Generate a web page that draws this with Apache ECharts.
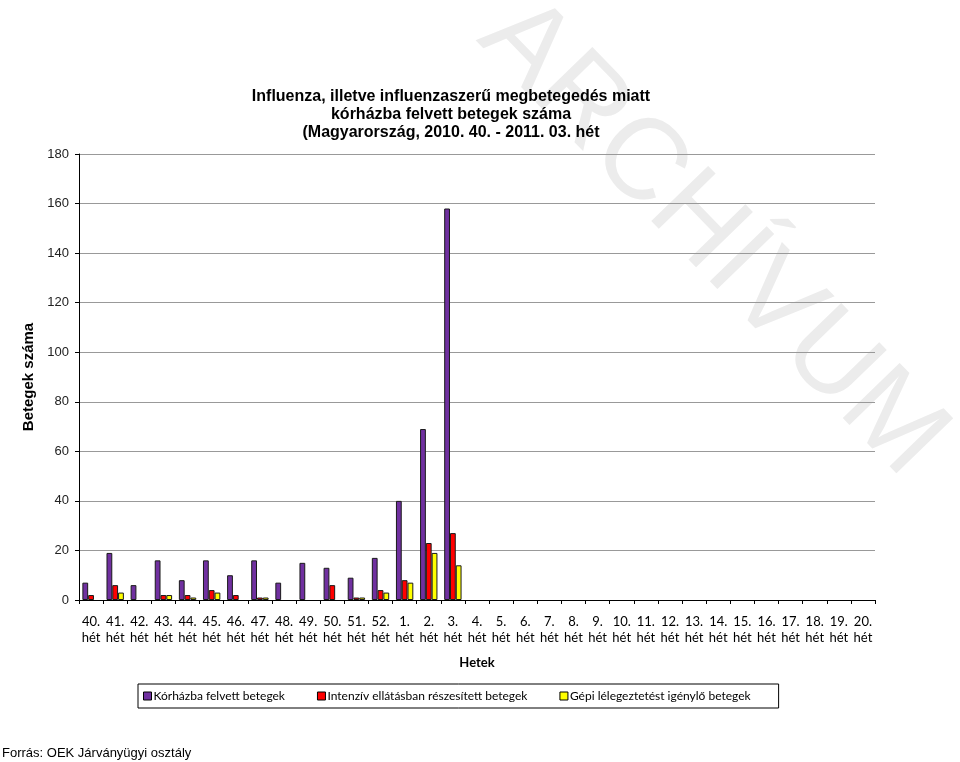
<!DOCTYPE html>
<html><head><meta charset="utf-8">
<script src="https://cdn.jsdelivr.net/npm/echarts@6/dist/echarts.min.js"></script>
<style>html,body{margin:0;padding:0;background:#fff}#c{width:960px;height:762px}</style>
</head><body><div id="c"></div>
<script>
const weeks = ["40.","41.","42.","43.","44.","45.","46.","47.","48.","49.","50.","51.","52.","1.","2.","3.","4.","5.","6.","7.","8.","9.","10.","11.","12.","13.","14.","15.","16.","17.","18.","19.","20."];
const hospitalized = [7,19,6,16,8,16,10,16,7,15,13,9,17,40,69,158,null,null,null,null,null,null,null,null,null,null,null,null,null,null,null,null,null];
const intensive = [2,6,0,2,2,4,2,1,0,0,6,1,4,8,23,27,null,null,null,null,null,null,null,null,null,null,null,null,null,null,null,null,null];
const ventilated = [0,3,0,2,1,3,0,1,0,0,0,1,3,7,19,14,null,null,null,null,null,null,null,null,null,null,null,null,null,null,null,null,null];
const seriesNames = ["Kórházba felvett betegek","Intenzív ellátásban részesített betegek","Gépi lélegeztetést igénylő betegek"];
const colors = ["#7030A0","#FF0000","#FFFF00"];
const yTicks = {min:0, max:180, interval:20};

const chart = echarts.init(document.getElementById('c'));
const mk = (i, data) => ({
  name: seriesNames[i], type:'bar',
  data: data.map(v => v === 0 ? {value:0, itemStyle:{borderWidth:0}} : v),
  barGap: 0, barCategoryGap: '28%',
  itemStyle: {color: colors[i], borderColor:'#1a1a1a', borderWidth:1},
  z: 3
});
chart.setOption({
  animation:false,
  textStyle:{fontFamily:'Liberation Sans, Arial, sans-serif'},
  title:{
    text:"Influenza, illetve influenzaszerű megbetegedés miatt\nkórházba felvett betegek száma\n(Magyarország, 2010. 40. - 2011. 03. hét",
    left:446, top:83, textAlign:'center',
    textStyle:{fontFamily:'Liberation Sans, Arial', fontWeight:'bold', fontSize:16, lineHeight:18, color:'#000'}
  },
  graphic:[
    {type:'text', z:-10, x:712, y:238, rotation:-0.80,
     style:{text:'ARCHÍVUM', fill:'#ececec', font:'115px "Liberation Sans", Arial', textAlign:'center', textVerticalAlign:'middle'}},
    {type:'text', left:2, top:747, style:{text:'Forrás: OEK Járványügyi osztály', fill:'#000', font:'13px "Liberation Sans", Arial'}}
  ],
  legend:{
    left:138, top:684, itemWidth:8, itemHeight:8, itemGap:32, icon:'rect',
    borderColor:'#000', borderWidth:1, padding:[6,28,6,5],
    textStyle:{fontFamily:'Lato', fontSize:12, color:'#000', padding:[0,0,0,-3]},
    itemStyle:{borderColor:'#000', borderWidth:1}
  },
  grid:{left:79, right:85, top:154, bottom:162, containLabel:false},
  xAxis:{
    type:'category', data:weeks,
    name:'Hetek', nameLocation:'middle', nameGap:56,
    nameTextStyle:{fontFamily:'Lato', fontWeight:'bold', fontSize:13, color:'#000'},
    axisLine:{lineStyle:{color:'#000', width:1}},
    axisTick:{show:true, length:4, lineStyle:{color:'#000'}},
    axisLabel:{fontFamily:'Lato', fontSize:13, color:'#000', lineHeight:16, margin:14, interval:0,
      formatter: v => v + '\nhét'}
  },
  yAxis:{
    type:'value', min:yTicks.min, max:yTicks.max, interval:yTicks.interval,
    name:'Betegek száma', nameLocation:'middle', nameGap:42, nameRotate:90,
    nameTextStyle:{fontFamily:'Liberation Sans, Arial', fontWeight:'bold', fontSize:15, color:'#000'},
    axisLine:{show:true, lineStyle:{color:'#000', width:1}},
    axisTick:{show:true, length:4, inside:false, lineStyle:{color:'#000'}},
    axisLabel:{fontFamily:'Liberation Sans, Arial', fontSize:13, color:'#222', margin:10},
    splitLine:{show:true, lineStyle:{color:'#999', width:1}}
  },
  series:[mk(0,hospitalized), mk(1,intensive), mk(2,ventilated)]
});
</script></body></html>
